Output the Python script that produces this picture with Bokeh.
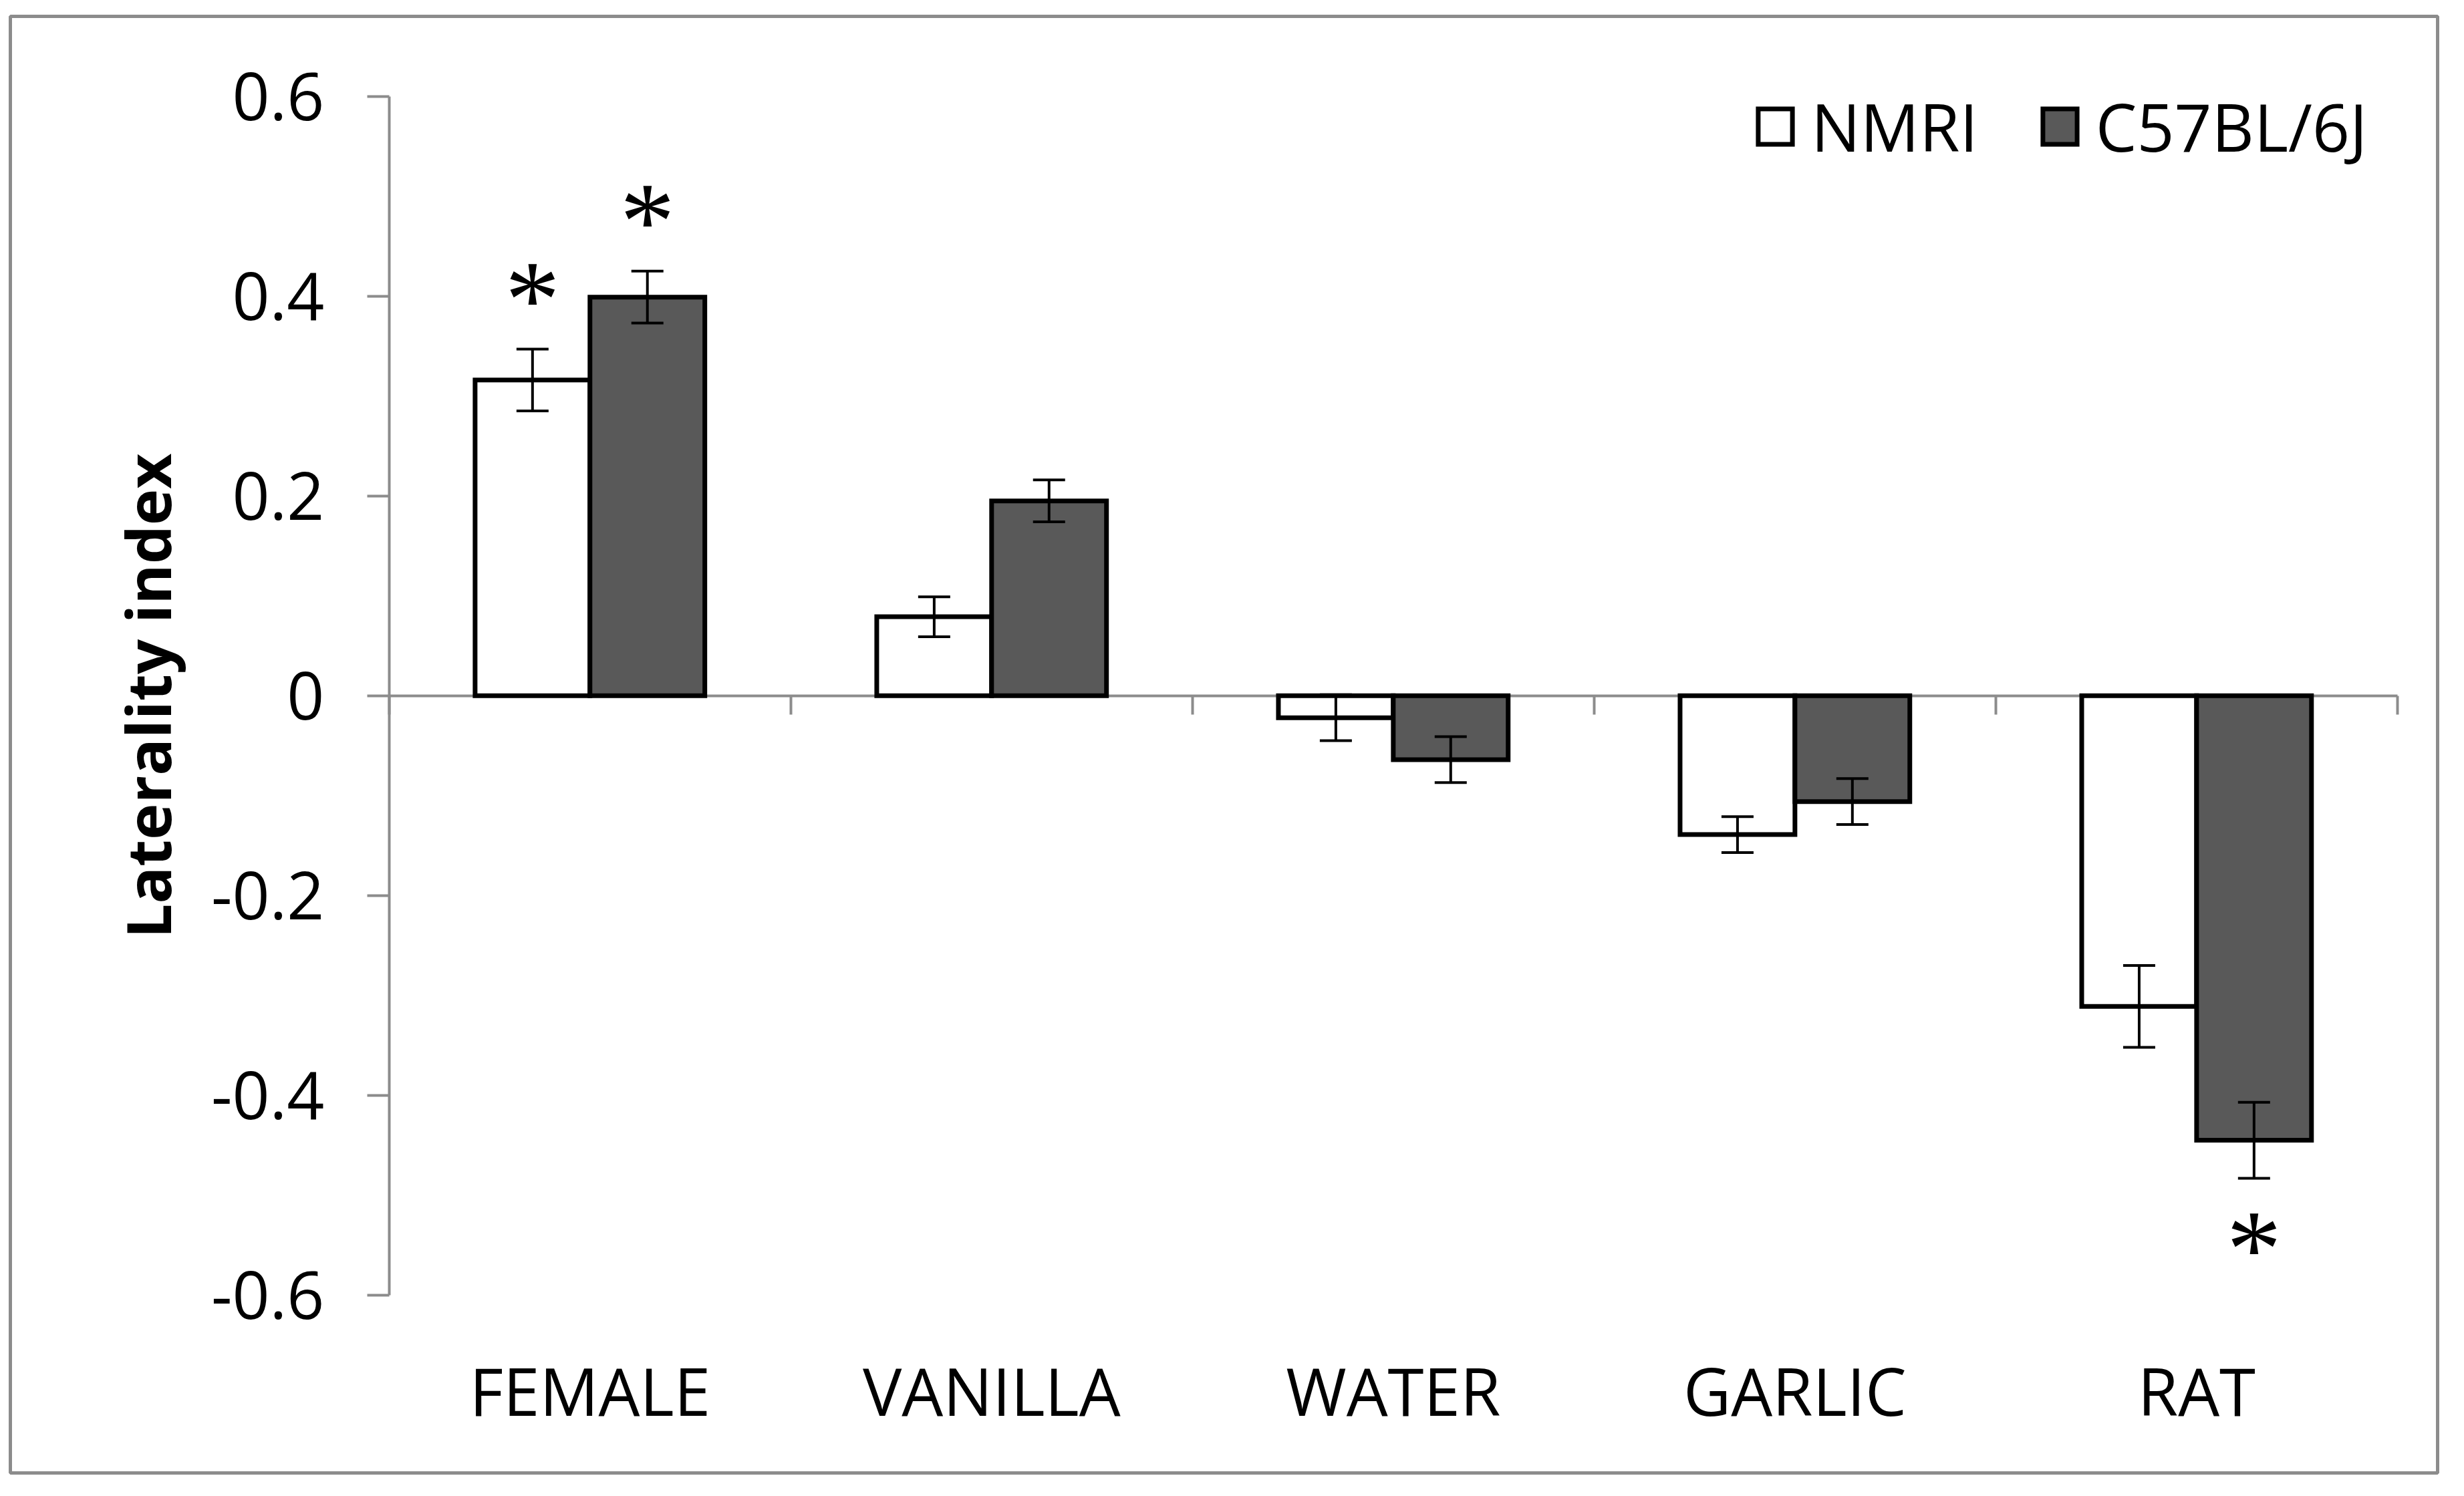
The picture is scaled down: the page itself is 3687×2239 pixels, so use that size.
import numpy as np
from bokeh.plotting import figure
from bokeh.models import (Range1d, LinearAxis, FixedTicker, PrintfTickFormatter,
                          ColumnDataSource, Whisker, TeeHead, Legend, LegendItem)
from bokeh.core.properties import value
from bokeh.embed import file_html
from bokeh.resources import INLINE

# ---------------- data ----------------
categories = ["FEMALE", "VANILLA", "WATER", "GARLIC", "RAT"]
series_names = ["NMRI", "C57BL/6J"]
nmri_mean = [0.316, 0.079, -0.022, -0.139, -0.311]
nmri_se = [0.031, 0.020, 0.023, 0.018, 0.041]
c57_mean = [0.399, 0.195, -0.064, -0.106, -0.445]
c57_se = [0.026, 0.021, 0.023, 0.023, 0.038]
nmri_sig = [True, False, False, False, False]
c57_sig = [True, False, False, False, True]
y_ticks = [-0.6, -0.4, -0.2, 0, 0.2, 0.4, 0.6]
y_label = "Laterality index"

# ---------------- style ----------------
FONT = "Open Sans"
FS = "98px"
GRAY = "#8c8c8c"
DARK = "#595959"
BAR_W = 0.286

W, H = 3671, 2223
p = figure(width=W, height=H, output_backend="svg", toolbar_location=None,
           x_axis_type=None, y_axis_type=None, title=None,
           x_range=Range1d(-0.943, 5.100), y_range=Range1d(-0.778, 0.680),
           min_border_left=15, min_border_right=24, min_border_top=24,
           min_border_bottom=19)
p.outline_line_color = GRAY
p.outline_line_width = 5
p.background_fill_color = "white"
p.border_fill_color = "white"

# zero line with category-boundary ticks
zero_axis = LinearAxis(fixed_location=0, bounds=(0, len(categories)),
                       ticker=FixedTicker(ticks=list(range(len(categories) + 1))),
                       major_tick_out=28, major_tick_in=0,
                       minor_tick_line_color=None,
                       axis_line_color=GRAY, axis_line_width=4,
                       major_tick_line_color=GRAY, major_tick_line_width=4,
                       major_label_text_color=None, level="underlay")
p.add_layout(zero_axis, "below")

# category labels (Excel "low" position)
cat_axis = LinearAxis(fixed_location=min(y_ticks),
                      ticker=FixedTicker(ticks=[i + 0.5 for i in range(len(categories))]),
                      major_label_overrides={i + 0.5: c for i, c in enumerate(categories)},
                      axis_line_color=None, major_tick_line_color=None,
                      minor_tick_line_color=None, major_label_standoff=70,
                      major_label_text_font=FONT, major_label_text_font_size=FS,
                      major_label_text_color="black")
p.add_layout(cat_axis, "below")

# y axis
y_axis = LinearAxis(fixed_location=0, bounds=(min(y_ticks), max(y_ticks)),
                    ticker=FixedTicker(ticks=y_ticks),
                    formatter=PrintfTickFormatter(format="%g"),
                    major_tick_out=33, major_tick_in=0,
                    minor_tick_line_color=None,
                    axis_line_color=GRAY, axis_line_width=4,
                    major_tick_line_color=GRAY, major_tick_line_width=4,
                    major_label_standoff=64,
                    major_label_text_font=FONT, major_label_text_font_size=FS,
                    major_label_text_color="black",
                    axis_label=y_label, axis_label_standoff=30,
                    axis_label_text_font=FONT, axis_label_text_font_size="92px",
                    axis_label_text_font_style="bold",
                    axis_label_text_color="black")
p.add_layout(y_axis, "left")

# bars
idx = np.arange(len(categories)) + 0.5
x_n = idx - BAR_W / 2
x_c = idx + BAR_W / 2
src_n = ColumnDataSource(dict(x=x_n, top=nmri_mean,
                              upper=np.array(nmri_mean) + np.array(nmri_se),
                              lower=np.array(nmri_mean) - np.array(nmri_se)))
src_c = ColumnDataSource(dict(x=x_c, top=c57_mean,
                              upper=np.array(c57_mean) + np.array(c57_se),
                              lower=np.array(c57_mean) - np.array(c57_se)))
r_n = p.vbar(x="x", top="top", bottom=0, width=BAR_W, source=src_n,
             fill_color="white", line_color="black", line_width=7, line_join="miter")
r_c = p.vbar(x="x", top="top", bottom=0, width=BAR_W, source=src_c,
             fill_color=DARK, line_color="black", line_width=7, line_join="miter")

for src in (src_n, src_c):
    p.add_layout(Whisker(source=src, base="x", upper="upper", lower="lower",
                         line_color="black", line_width=4, level="annotation",
                         upper_head=TeeHead(size=48, line_width=4, line_color="black"),
                         lower_head=TeeHead(size=48, line_width=4, line_color="black")))

# significance asterisks
ax, ay, aoff = [], [], []
for xs, m, s, sig in ((x_n, nmri_mean, nmri_se, nmri_sig), (x_c, c57_mean, c57_se, c57_sig)):
    for i in range(len(categories)):
        if sig[i]:
            ax.append(xs[i])
            if m[i] >= 0:
                ay.append(m[i] + s[i]); aoff.append(-74)
            else:
                ay.append(m[i] - s[i]); aoff.append(106)
p.text(x=ax, y=ay, text=["*"] * len(ax), y_offset=aoff,
       text_font=value("Liberation Serif"), text_font_size="165px",
       text_align="center", text_baseline="alphabetic", text_color="black")

legend = Legend(items=[LegendItem(label=series_names[0], renderers=[r_n]),
                       LegendItem(label=series_names[1], renderers=[r_c])],
                orientation="horizontal", location=(2609, 1948),
                glyph_width=64, glyph_height=66, label_standoff=22, spacing=90,
                padding=0, margin=0, border_line_color=None,
                background_fill_alpha=0,
                label_text_font=FONT, label_text_font_size=FS,
                label_text_color="black")
p.add_layout(legend)

open("out.html", "w").write(file_html(p, INLINE))
